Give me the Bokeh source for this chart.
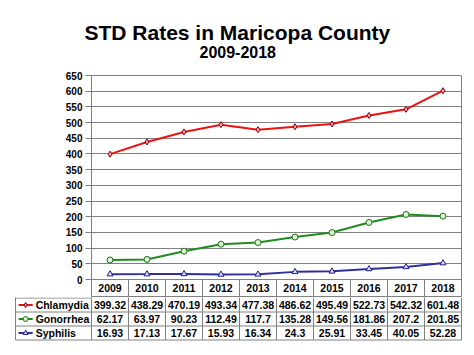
from bokeh.plotting import figure
from bokeh.layouts import column
from bokeh.models import Range1d, FixedTicker, Title
from bokeh.embed import file_html
from bokeh.resources import INLINE
from bokeh.core.properties import value

# ---- data ----
years = ["2009", "2010", "2011", "2012", "2013", "2014", "2015", "2016", "2017", "2018"]
chlamydia = [399.32, 438.29, 470.19, 493.34, 477.38, 486.62, 495.49, 522.73, 542.32, 601.48]
gonorrhea = [62.17, 63.97, 90.23, 112.49, 117.7, 135.28, 149.56, 181.86, 207.2, 201.85]
syphilis = [16.93, 17.13, 17.67, 15.93, 16.34, 24.3, 25.91, 33.45, 40.05, 52.28]
series_names = ["Chlamydia", "Gonorrhea", "Syphilis"]
y_ticks = [0, 50, 100, 150, 200, 250, 300, 350, 400, 450, 500, 550, 600, 650]
title_text = "STD Rates in Maricopa County"
subtitle_text = "2009-2018"

FONT = "Liberation Sans"
GRID = "#808080"
styles = [
    dict(color="#ee1111", marker="diamond", fill="#ff9aa8", mline="#7a0010"),
    dict(color="#1e8c1e", marker="circle", fill="#d8f5d0", mline="#1e6e1e"),
    dict(color="#30309c", marker="triangle", fill="#d8d8ff", mline="#202080"),
]
all_series = [chlamydia, gonorrhea, syphilis]

n = len(years)
nrows = len(series_names)
xs = [i + 0.5 for i in range(n)]

# ---- chart (plot area + header row of the table) ----
plot_px = 204.0                     # pixel height of 0..650
px_per_val = plot_px / (y_ticks[-1] - y_ticks[0])
head_vals = 17.0 / px_per_val       # header row height in value units
top = figure(width=474, height=297, x_range=Range1d(0, n),
             y_range=Range1d(y_ticks[0] - head_vals, y_ticks[-1]),
             output_backend="svg", toolbar_location=None, x_axis_location=None,
             min_border_left=91, min_border_right=13, min_border_top=75, min_border_bottom=1)
if "frame_align" in top.properties():
    top.frame_align = False
top.title.visible = False
top.background_fill_color = "white"
top.border_fill_color = "white"
top.outline_line_color = GRID
top.outline_line_width = 1
top.xgrid.visible = False
top.ygrid.grid_line_color = GRID
top.ygrid.grid_line_width = 1
ya = top.yaxis[0]
ya.ticker = FixedTicker(ticks=y_ticks)
ya.major_label_text_font = FONT
ya.major_label_text_font_size = "10px"
ya.major_label_text_font_style = "bold"
ya.major_label_text_color = "black"
ya.major_label_standoff = 3
ya.major_tick_out = 6
ya.major_tick_in = 0
ya.major_tick_line_color = GRID
ya.minor_tick_line_color = None
ya.axis_line_color = GRID

for vals, st in zip(all_series, styles):
    top.line(xs, vals, line_color=st["color"], line_width=2)
    top.scatter(xs, vals, marker=st["marker"], size=6, fill_color=st["fill"], line_color=st["mline"], line_width=1)

txt = dict(text_font=value(FONT), text_font_size="10.5px", text_font_style="bold", text_color="black",
           text_baseline="middle")
# header row: column separators + years
top.segment(x0=list(range(1, n)), y0=[y_ticks[0]] * (n - 1), x1=list(range(1, n)),
            y1=[y_ticks[0] - 2 * head_vals] * (n - 1), line_color=GRID, line_width=1)
top.text(x=xs, y=[y_ticks[0] - head_vals / 2] * n, text=years, text_align="center", **txt)

spacer = Title(text=" ", text_font_size="1px", standoff=15)
sub = Title(text=subtitle_text, align="left", offset=108, text_font=FONT, text_font_size="16px",
            text_font_style="bold", text_color="black", standoff=0)
main = Title(text=title_text, align="left", offset=-7, text_font=FONT, text_font_size="21px",
             text_font_style="bold", text_color="black", standoff=0)
top.add_layout(spacer, "above")
top.add_layout(sub, "above")
top.add_layout(main, "above")

# ---- data rows of the table ----
row_px = 14.0
y_top = nrows + 0.5 / row_px
label_left = -76 / 37.0
bot = figure(width=474, height=58, x_range=Range1d(-2.081, 10.027),
             y_range=Range1d(y_top - 44 / row_px, y_top),
             output_backend="svg", toolbar_location=None, x_axis_location=None, y_axis_location=None,
             min_border_left=14, min_border_right=12, min_border_top=0, min_border_bottom=14)
if "frame_align" in bot.properties():
    bot.frame_align = False
bot.background_fill_color = "white"
bot.border_fill_color = "white"
bot.outline_line_color = None
bot.xgrid.visible = False
bot.ygrid.visible = False

# horizontal lines
bot.segment(x0=[label_left] * nrows, y0=list(range(nrows)),
            x1=[n] * nrows, y1=list(range(nrows)), line_color=GRID, line_width=1)
bot.segment(x0=[label_left], y0=[nrows], x1=[0], y1=[nrows], line_color=GRID, line_width=1)
# vertical lines
bot.segment(x0=[label_left], y0=[0], x1=[label_left], y1=[nrows + 1], line_color=GRID, line_width=1)
bot.segment(x0=list(range(n + 1)), y0=[0] * (n + 1), x1=list(range(n + 1)), y1=[nrows + 1] * (n + 1),
            line_color=GRID, line_width=1)

for r, (name, vals, st) in enumerate(zip(series_names, all_series, styles)):
    yc = nrows - r - 0.5
    bot.text(x=xs, y=[yc] * n, text=[str(v) for v in vals], text_align="center", **txt)
    bot.text(x=[-1.51], y=[yc], text=[name], text_align="left", **txt)
    bot.segment(x0=[-1.97], y0=[yc], x1=[-1.59], y1=[yc], line_color=st["color"], line_width=2)
    bot.scatter(x=[-1.78], y=[yc], marker=st["marker"], size=5, fill_color=st["fill"], line_color=st["mline"])

layout = column(top, bot, spacing=0)
open("out.html", "w").write(file_html(layout, INLINE))
